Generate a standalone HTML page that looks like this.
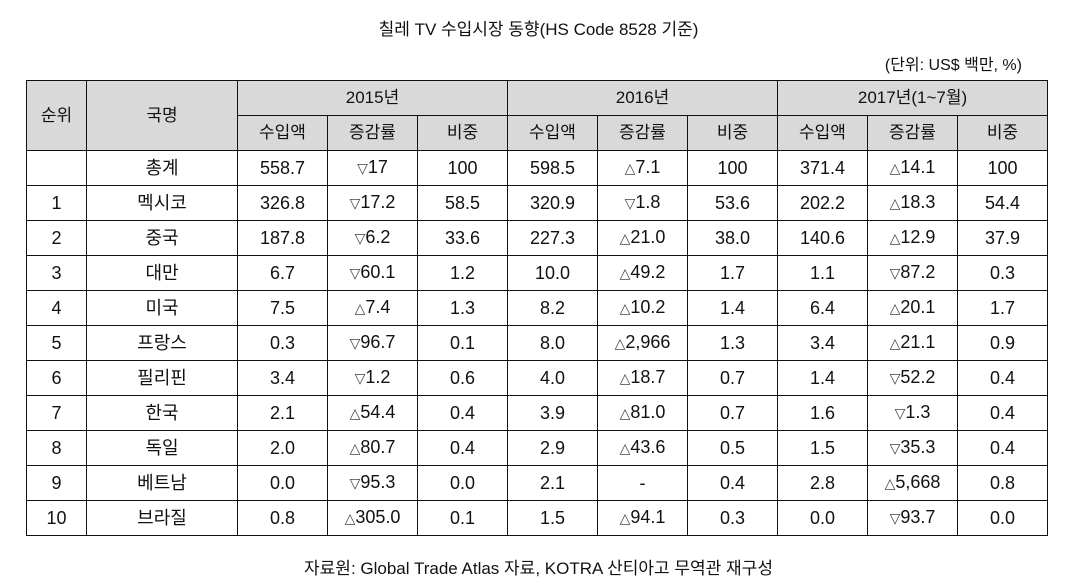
<!DOCTYPE html>
<html><head><meta charset="utf-8"><style>
body{margin:0;width:1077px;height:585px;background:#fff;font-family:"Liberation Sans","Noto Sans CJK KR",sans-serif;color:#111;position:relative;overflow:hidden}
.title{position:absolute;left:0;width:1077px;top:15px;text-align:center;font-size:17px}
.unit{position:absolute;right:55px;top:51px;font-size:16px}
table{position:absolute;left:26px;top:80px;border-collapse:collapse;table-layout:fixed;width:1021px}
td{border:1.5px solid #111;text-align:center;font-size:18px;height:35px;line-height:20px;padding:0;box-sizing:border-box}
tr.h td{background:#d9d9d9;font-size:17px}
.t{font-family:"DejaVu Sans",sans-serif;font-size:14px;color:#444}
.src{position:absolute;left:0;width:1077px;top:554px;text-align:center;font-size:17px}
</style></head><body>
<div class="title">칠레 TV 수입시장 동향(HS Code 8528 기준)</div>
<div class="unit">(단위: US$ 백만, %)</div>
<table>
<colgroup><col style="width:60px"><col style="width:151px"><col span="9" style="width:90px"></colgroup>
<tr class="h"><td rowspan="2">순위</td><td rowspan="2">국명</td><td colspan="3">2015년</td><td colspan="3">2016년</td><td colspan="3">2017년(1~7월)</td></tr>
<tr class="h"><td>수입액</td><td>증감률</td><td>비중</td><td>수입액</td><td>증감률</td><td>비중</td><td>수입액</td><td>증감률</td><td>비중</td></tr>
<tr><td></td><td>총계</td><td>558.7</td><td><span class="t">▽</span>17</td><td>100</td><td>598.5</td><td><span class="t">△</span>7.1</td><td>100</td><td>371.4</td><td><span class="t">△</span>14.1</td><td>100</td></tr>
<tr><td>1</td><td>멕시코</td><td>326.8</td><td><span class="t">▽</span>17.2</td><td>58.5</td><td>320.9</td><td><span class="t">▽</span>1.8</td><td>53.6</td><td>202.2</td><td><span class="t">△</span>18.3</td><td>54.4</td></tr>
<tr><td>2</td><td>중국</td><td>187.8</td><td><span class="t">▽</span>6.2</td><td>33.6</td><td>227.3</td><td><span class="t">△</span>21.0</td><td>38.0</td><td>140.6</td><td><span class="t">△</span>12.9</td><td>37.9</td></tr>
<tr><td>3</td><td>대만</td><td>6.7</td><td><span class="t">▽</span>60.1</td><td>1.2</td><td>10.0</td><td><span class="t">△</span>49.2</td><td>1.7</td><td>1.1</td><td><span class="t">▽</span>87.2</td><td>0.3</td></tr>
<tr><td>4</td><td>미국</td><td>7.5</td><td><span class="t">△</span>7.4</td><td>1.3</td><td>8.2</td><td><span class="t">△</span>10.2</td><td>1.4</td><td>6.4</td><td><span class="t">△</span>20.1</td><td>1.7</td></tr>
<tr><td>5</td><td>프랑스</td><td>0.3</td><td><span class="t">▽</span>96.7</td><td>0.1</td><td>8.0</td><td><span class="t">△</span>2,966</td><td>1.3</td><td>3.4</td><td><span class="t">△</span>21.1</td><td>0.9</td></tr>
<tr><td>6</td><td>필리핀</td><td>3.4</td><td><span class="t">▽</span>1.2</td><td>0.6</td><td>4.0</td><td><span class="t">△</span>18.7</td><td>0.7</td><td>1.4</td><td><span class="t">▽</span>52.2</td><td>0.4</td></tr>
<tr><td>7</td><td>한국</td><td>2.1</td><td><span class="t">△</span>54.4</td><td>0.4</td><td>3.9</td><td><span class="t">△</span>81.0</td><td>0.7</td><td>1.6</td><td><span class="t">▽</span>1.3</td><td>0.4</td></tr>
<tr><td>8</td><td>독일</td><td>2.0</td><td><span class="t">△</span>80.7</td><td>0.4</td><td>2.9</td><td><span class="t">△</span>43.6</td><td>0.5</td><td>1.5</td><td><span class="t">▽</span>35.3</td><td>0.4</td></tr>
<tr><td>9</td><td>베트남</td><td>0.0</td><td><span class="t">▽</span>95.3</td><td>0.0</td><td>2.1</td><td>-</td><td>0.4</td><td>2.8</td><td><span class="t">△</span>5,668</td><td>0.8</td></tr>
<tr><td>10</td><td>브라질</td><td>0.8</td><td><span class="t">△</span>305.0</td><td>0.1</td><td>1.5</td><td><span class="t">△</span>94.1</td><td>0.3</td><td>0.0</td><td><span class="t">▽</span>93.7</td><td>0.0</td></tr>
</table>
<div class="src">자료원: Global Trade Atlas 자료, KOTRA 산티아고 무역관 재구성</div>
</body></html>
